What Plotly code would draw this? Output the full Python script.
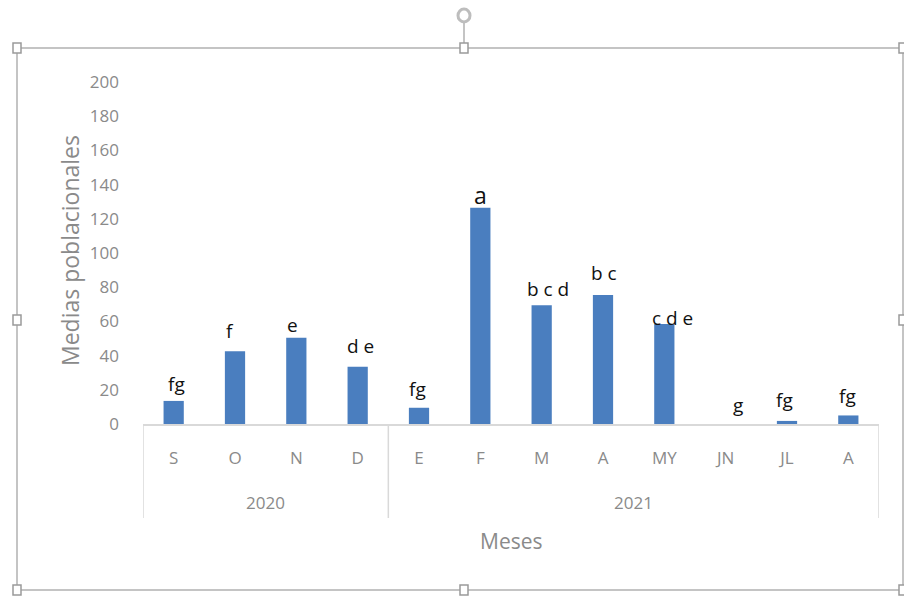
import plotly.graph_objects as go

# Monthly population means with significance letters
years = ["2020", "2020", "2020", "2020", "2021", "2021", "2021", "2021",
         "2021", "2021", "2021", "2021"]
months = ["S", "O", "N", "D", "E", "F", "M", "A", "MY", "JN", "JL", "A"]
means = [13.5, 42.5, 50.5, 33.5, 9.5, 126.5, 69.5, 75.5, 58.5, 0, 1.8, 5]
letters = ["fg", "f", "e", "d e", "fg", "a", "b c d", "b c", "c d e", "g", "fg", "fg"]
y_ticks = [0, 20, 40, 60, 80, 100, 120, 140, 160, 180, 200]

# hand-placed nudges (pixels) for the letter labels
label_dx = [3, -5, -4, 3, -2, 0, 6, 1, 8, 12, -3, -1]
label_dy = [8, 11, 4, 12, 10, 2, 7, 13, -3, 10, 12, 10]

W, H = 904, 597
L, R, T, B = 143, 879, 82, 424  # plot area in pixels


def px(x):
    return (x - L) / (R - L)


def py(y):
    return (B - y) / (B - T)


xs = list(range(len(months)))
GRAY = "#8a8a8a"
LINE = "#d9d9d9"
TICKFONT = "Open Sans, sans-serif"

fig = go.Figure(go.Bar(
    x=xs, y=means, marker=dict(color="#4a7ebf", line=dict(width=0)),
    width=0.33, hoverinfo="skip",
))

annotations = []
for i, (v, lab) in enumerate(zip(means, letters)):
    size = 23 if lab == "a" else 19
    annotations.append(dict(
        x=i, y=v, xref="x", yref="y", text=lab, showarrow=False,
        xanchor="center", yanchor="bottom",
        xshift=label_dx[i], yshift=label_dy[i] - round(0.3 * size),
        font=dict(family="Open Sans, sans-serif", size=size, color="#111111"),
    ))

# year group labels centred under their months, with divider lines
shapes = []
groups = []
for i, yr in enumerate(years):
    if not groups or groups[-1][0] != yr:
        groups.append([yr, i, i])
    else:
        groups[-1][2] = i
for yr, a, b in groups:
    annotations.append(dict(
        x=(a + b) / 2, y=py(503), xref="x", yref="paper", text=yr,
        showarrow=False, xanchor="center", yanchor="middle",
        font=dict(family=TICKFONT, size=17, color=GRAY),
    ))
    shapes.append(dict(type="line", xref="x", yref="paper", x0=a - 0.5, x1=a - 0.5,
                       y0=0, y1=py(518), line=dict(color=LINE, width=1.5)))
shapes.append(dict(type="line", xref="x", yref="paper", x0=len(xs) - 0.5,
                   x1=len(xs) - 0.5, y0=0, y1=py(518),
                   line=dict(color=LINE, width=1.5)))

annotations.append(dict(
    x=px(511), y=py(541), xref="paper", yref="paper", text="Meses",
    showarrow=False, xanchor="center", yanchor="middle",
    font=dict(family=TICKFONT, size=21, color=GRAY),
))
annotations.append(dict(
    x=px(70), y=py(251), xref="paper", yref="paper", text="Medias poblacionales",
    showarrow=False, textangle=-90, xanchor="center", yanchor="middle",
    font=dict(family="Open Sans, sans-serif", size=23, color=GRAY),
))

# selection frame around the chart object
FRAME = "#c4c4c4"
fx0, fx1, fy0, fy1 = 17, 903, 48, 590
for (x0, y0, x1, y1) in [(fx0, fy0, fx1, fy0), (fx0, fy1, fx1, fy1),
                         (fx0, fy0, fx0, fy1), (fx1, fy0, fx1, fy1),
                         (464, 22, 464, fy0)]:
    shapes.append(dict(type="line", xref="paper", yref="paper",
                       x0=px(x0), x1=px(x1), y0=py(y0), y1=py(y1),
                       line=dict(color=FRAME, width=2)))
for (hx, hy) in [(fx0, fy0), (464, fy0), (fx1, fy0), (fx0, 320), (fx1, 320),
                 (fx0, fy1), (464, fy1), (fx1, fy1)]:
    shapes.append(dict(type="rect", xref="paper", yref="paper",
                       x0=px(hx - 4), x1=px(hx + 4), y0=py(hy - 5), y1=py(hy + 5),
                       fillcolor="white", line=dict(color="#9a9a9a", width=1.5)))
shapes.append(dict(type="circle", xref="paper", yref="paper",
                   x0=px(458), x1=px(470), y0=py(9), y1=py(22),
                   fillcolor="white", line=dict(color="#bdbdbd", width=3)))

fig.update_layout(
    width=W, height=H,
    margin=dict(l=L, r=W - R, t=T, b=H - B),
    paper_bgcolor="white", plot_bgcolor="white",
    showlegend=False,
    xaxis=dict(
        range=[-0.5, len(xs) - 0.5], tickmode="array", tickvals=xs, ticktext=months,
        showgrid=False, zeroline=False, showline=True, linecolor=LINE, linewidth=1.5,
        ticks="", ticklabelstandoff=18,
        tickfont=dict(family=TICKFONT, size=17, color=GRAY),
        fixedrange=True,
    ),
    yaxis=dict(
        range=[0, 200], tickmode="array", tickvals=y_ticks,
        showgrid=False, zeroline=False, showline=False, ticks="",
        ticklabelstandoff=23,
        tickfont=dict(family=TICKFONT, size=17, color=GRAY),
        fixedrange=True,
    ),
    annotations=annotations,
    shapes=shapes,
)

fig.write_html("out.html")
